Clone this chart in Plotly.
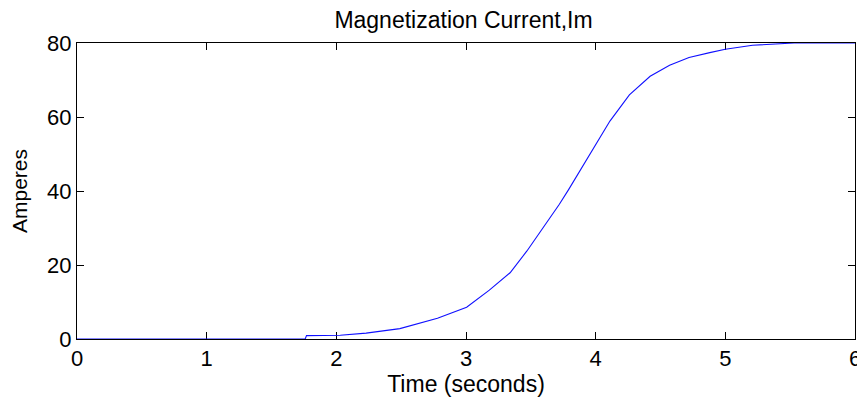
import plotly.graph_objects as go

# Data
time_s = [0, 1.76, 1.77, 2.03, 2.23, 2.49, 2.78, 3.005, 3.18, 3.34, 3.47,
          3.57, 3.65, 3.72, 3.79, 3.83, 3.98, 4.02, 4.11, 4.26, 4.42, 4.57,
          4.72, 4.88, 5.00, 5.21, 5.52, 5.53, 6.0]
im_amps = [0.0, 0.0, 0.9, 1.0, 1.6, 2.8, 5.6, 8.6, 13.2, 17.9, 23.8,
           28.8, 32.8, 36.4, 40.3, 42.6, 51.5, 53.8, 58.9, 66.0, 71.0, 74.0,
           76.1, 77.4, 78.3, 79.4, 79.8, 80.0, 80.0]
x_ticks = [0, 1, 2, 3, 4, 5, 6]
y_ticks = [0, 20, 40, 60, 80]

FONT = "Liberation Sans, Arial, Helvetica, sans-serif"

fig = go.Figure()
fig.add_trace(go.Scatter(x=time_s, y=im_amps, mode="lines",
                         line=dict(color="#1010ff", width=1.1),
                         cliponaxis=False, hoverinfo="skip"))

axis_common = dict(showline=True, linecolor="black", linewidth=1,
                   mirror="ticks", ticks="inside", ticklen=7, tickwidth=1,
                   tickcolor="black", showgrid=False, zeroline=False,
                   layer="below traces", automargin=False,
                   tickfont=dict(family=FONT, size=22, color="black"))

# The page body has an 8px margin, so the figure is sized to fit the window.
fig.update_layout(
    width=857, height=392,
    margin=dict(l=69, r=10, t=35, b=61),
    paper_bgcolor="white", plot_bgcolor="white",
    showlegend=False,
    title=dict(text="Magnetization Current,Im", x=0.5315, xanchor="center",
               y=0.99, yanchor="top", automargin=False,
               font=dict(family=FONT, size=23, color="black")),
    xaxis=dict(range=[0, 6], tickvals=x_ticks, ticktext=[str(v) for v in x_ticks],
               title=dict(text="Time (seconds)", standoff=4,
                          font=dict(family=FONT, size=23, color="black")),
               **axis_common),
    yaxis=dict(range=[0, 80], tickvals=y_ticks, ticktext=[str(v) for v in y_ticks],
               title=dict(text="Amperes", standoff=18,
                          font=dict(family=FONT, size=21, color="black")),
               **axis_common),
)

fig.write_html("out.html")
